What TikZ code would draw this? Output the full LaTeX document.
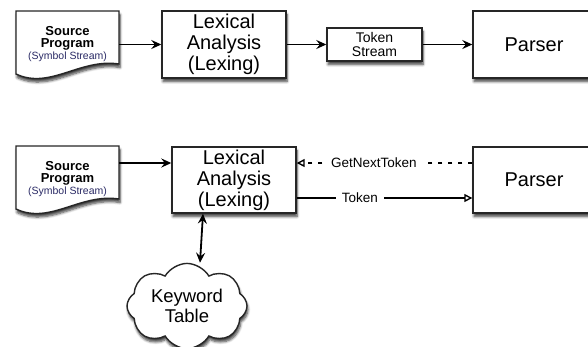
\documentclass[tikz,border=0pt]{standalone}
\usepackage{fontspec}
\setmainfont{Liberation Sans}
\usetikzlibrary{arrows.meta,shadows.blur,shapes.symbols}
\definecolor{navy}{HTML}{2B2B66}
\tikzset{
  shad/.style={blur shadow={shadow xshift=1pt,shadow yshift=-3.5pt,shadow blur radius=2.5pt,shadow blur steps=6,shadow opacity=75}},
  box/.style={draw=black!85,line width=1.4pt,fill=white,shad,align=center,inner sep=0pt},
  bigtxt/.style={font=\fontsize{20}{21}\selectfont},
  conn/.style={line width=1.6pt,-{Stealth[length=10pt,width=9pt,inset=3.5pt]}},
  lbl/.style={font=\fontsize{13.5}{15}\selectfont,fill=white,inner xsep=6pt,inner ysep=2.5pt},
  srctxt/.style={align=center,inner sep=0pt,minimum width=103,minimum height=56},
}
\newcommand{\docpath}[1]{%
  \begin{scope}[yshift=#1]
  \draw[black!85,line width=1.4pt,fill=white,shad]
    (16,11) -- (119,11) -- (119,64)
    .. controls (80,58) and (50,90) .. (16,74) -- cycle;
  \end{scope}}
\newcommand{\srctext}{\fontsize{13}{15}\selectfont\bfseries Source\\
  \fontsize{13}{15}\selectfont\bfseries Program\\
  \color{navy}\fontsize{10.5}{13.5}\selectfont (Symbol Stream)}
\begin{document}
\begin{tikzpicture}[x=1pt,y=-1pt]
\useasboundingbox (0,0) rectangle (588,346);
\clip (0,0) rectangle (588,346);
% ---- top row
\docpath{0pt}
\node[srctxt] (src1) at (67.5,44.5) {\srctext};
\node[box,bigtxt,minimum width=124,minimum height=67] (lex1) at (224,44.5) {Lexical\\Analysis\\(Lexing)};
\node[box,font=\fontsize{14}{14.5}\selectfont,minimum width=95,minimum height=33] (ts) at (374.5,44.5) {Token\\Stream};
\node[box,bigtxt,minimum width=122,minimum height=67,text width=122,align=center] (par1) at (534,44.5) {Parser};
\draw[conn] (src1.east |- lex1) -- (lex1.west);
\draw[conn] (lex1.east) -- (ts.west);
\draw[conn] (ts.east) -- (par1.west);
% ---- bottom row
\docpath{-135pt}
\node[srctxt] (src2) at (67.5,179.5) {\srctext};
\node[box,bigtxt,minimum width=124,minimum height=66] (lex2) at (234,180) {Lexical\\Analysis\\(Lexing)};
\node[box,bigtxt,minimum width=122,minimum height=66,text width=122,align=center] (par2) at (534,180) {Parser};
\coordinate (ga) at (0,163);
\coordinate (gb) at (0,198);
\coordinate (kx) at (200,0);
\draw[conn] (src2.east |- ga) -- (lex2.west |- ga);
\draw[line width=1.5pt,dash pattern=on 4pt off 6pt,-{Triangle[open,length=8pt,width=8pt,line width=1.4pt]}]
  (par2.west |- ga) -- node[lbl,pos=0.56] {GetNextToken} (lex2.east |- ga);
\draw[line width=1.5pt,-{Triangle[open,length=8pt,width=8pt,line width=1.4pt]}]
  (lex2.east |- gb) -- node[lbl,pos=0.36] {Token} (par2.west |- gb);
\node[cloud,cloud puffs=8,cloud puff arc=120,aspect=1.5,draw=black!85,line width=1.4pt,fill=white,shad,
  minimum width=120,minimum height=78,inner sep=0pt,align=center,
  font=\fontsize{18.5}{19.5}\selectfont] (kw) at (187,306) {Keyword\\Table};
\draw[line width=1.8pt,{Stealth[length=10pt,width=9pt,inset=3.5pt]}-{Stealth[length=10pt,width=9pt,inset=3.5pt]}]
  (lex2.south -| 203,0) -- (kw.north -| kx);
\end{tikzpicture}
\end{document}
